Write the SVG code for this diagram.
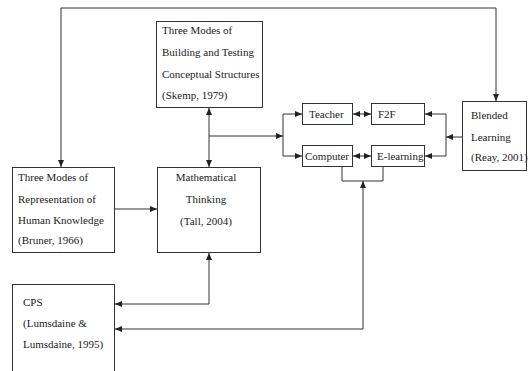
<svg xmlns="http://www.w3.org/2000/svg" width="528" height="371" viewBox="0 0 528 371">
<style>
.box{fill:#fff;stroke:#333;stroke-width:1}
.t{font-family:"Liberation Serif","Times New Roman",serif;font-size:11px;fill:#222}
.c{text-anchor:middle}
.ln{fill:none;stroke:#333;stroke-width:1}
</style>
<defs>
<marker id="ah" markerUnits="userSpaceOnUse" markerWidth="7" markerHeight="6" refX="7" refY="3" orient="auto-start-reverse">
<path d="M0,0 L7,3 L0,6 z" fill="#222"/>
</marker>
</defs>
<rect width="528" height="371" fill="#fff"/>
<g id="connectors">
<path class="ln" d="M61,167 V8 H496 V101" marker-start="url(#ah)" marker-end="url(#ah)"/>
<path class="ln" d="M209,108 V167" marker-start="url(#ah)" marker-end="url(#ah)"/>
<path class="ln" d="M209,136 H283" marker-end="url(#ah)"/>
<path class="ln" d="M302,114 H283 V156 H302" marker-start="url(#ah)" marker-end="url(#ah)"/>
<path class="ln" d="M425,114 H446 V156 H425" marker-start="url(#ah)" marker-end="url(#ah)"/>
<path class="ln" d="M462,137 H446" marker-end="url(#ah)"/>
<path class="ln" d="M353,114 H371" marker-start="url(#ah)" marker-end="url(#ah)"/>
<path class="ln" d="M353,156 H371" marker-start="url(#ah)" marker-end="url(#ah)"/>
<path class="ln" d="M115,209 H157" marker-end="url(#ah)"/>
<path class="ln" d="M209,253 V304 H115" marker-start="url(#ah)" marker-end="url(#ah)"/>
<path class="ln" d="M342,166 V181 H383 V166"/>
<path class="ln" d="M115,329 H363 V181" marker-start="url(#ah)" marker-end="url(#ah)"/>
</g>
<g id="skemp">
<rect class="box" x="156.5" y="21.5" width="106" height="86"/>
<text class="t" x="162" y="34">Three Modes of</text>
<text class="t" x="162" y="56">Building and Testing</text>
<text class="t" x="162" y="78">Conceptual Structures</text>
<text class="t" x="162" y="99">(Skemp, 1979)</text>
</g>
<g id="bruner">
<rect class="box" x="12.5" y="167.5" width="102" height="85"/>
<text class="t" x="18" y="181">Three Modes of</text>
<text class="t" x="18" y="203">Representation of</text>
<text class="t" x="18" y="224">Human Knowledge</text>
<text class="t" x="18" y="244">(Bruner, 1966)</text>
</g>
<g id="math">
<rect class="box" x="157.5" y="167.5" width="103" height="85"/>
<text class="t c" x="206" y="181">Mathematical</text>
<text class="t c" x="206" y="203">Thinking</text>
<text class="t c" x="206" y="225">(Tall, 2004)</text>
</g>
<g id="cps">
<rect class="box" x="12.5" y="284.5" width="102" height="100"/>
<text class="t" x="23" y="306">CPS</text>
<text class="t" x="23" y="327">(Lumsdaine &amp;</text>
<text class="t" x="23" y="348">Lumsdaine, 1995)</text>
</g>
<g id="blended">
<rect class="box" x="462.5" y="101.5" width="64" height="69"/>
<text class="t" x="471" y="119">Blended</text>
<text class="t" x="471" y="141">Learning</text>
<text class="t" x="471" y="161">(Reay, 2001)</text>
</g>
<g id="teacher">
<rect class="box" x="302.5" y="103.5" width="50" height="21"/>
<text class="t" x="309" y="118">Teacher</text>
</g>
<g id="f2f">
<rect class="box" x="371.5" y="103.5" width="53" height="21"/>
<text class="t" x="378" y="118">F2F</text>
</g>
<g id="computer">
<rect class="box" x="302.5" y="145.5" width="50" height="21"/>
<text class="t" x="305" y="160">Computer</text>
</g>
<g id="elearning">
<rect class="box" x="371.5" y="145.5" width="53" height="21"/>
<text class="t" x="377" y="160">E-learning</text>
</g>
</svg>
